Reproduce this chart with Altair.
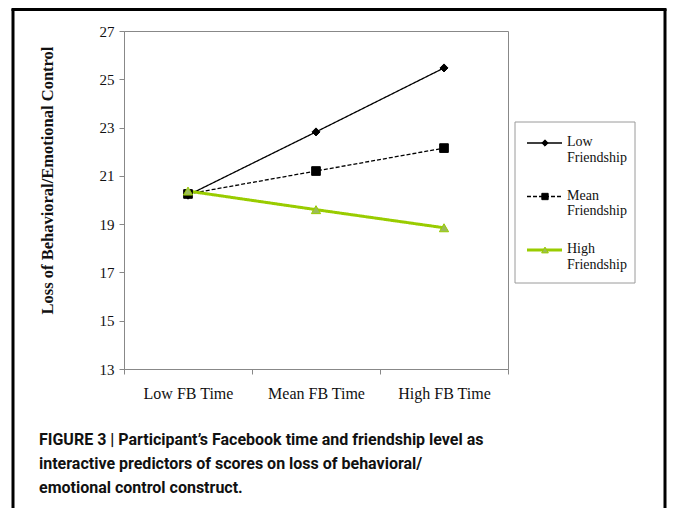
import altair as alt
import pandas as pd

# ---- data ----
categories = ["Low FB Time", "Mean FB Time", "High FB Time"]
series_names = ["Low Friendship", "Mean Friendship", "High Friendship"]
low_friendship = [20.2, 22.82, 25.47]
mean_friendship = [20.25, 21.2, 22.15]
high_friendship = [20.37, 19.6, 18.85]
y_ticks = [13, 15, 17, 19, 21, 23, 25, 27]
y_title = "Loss of Behavioral/Emotional Control"
caption_lines = [
    "FIGURE 3 | Participant\u2019s Facebook time and friendship level as",
    "interactive predictors of scores on loss of behavioral/",
    "emotional control construct.",
]

rows = []
for name, vals in zip(series_names, [low_friendship, mean_friendship, high_friendship]):
    for c, v in zip(categories, vals):
        rows.append({"series": name, "time": c, "score": v})
df = pd.DataFrame(rows)

legend_df = pd.DataFrame({
    "series": series_names,
    "label": [n.replace(" ", "\n") for n in series_names],
})
caption_df = pd.DataFrame({"caption": ["\n".join(caption_lines)]})
one = pd.DataFrame({"a": [0]})

SERIF = "Liberation Serif"
THICK = "High Friendship"

stroke_scale = alt.Scale(domain=series_names, range=["#000000", "#000000", "#99CC00"])
fill_scale = alt.Scale(domain=series_names, range=["#000000", "#000000", "#9BBB59"])
dash_scale = alt.Scale(domain=series_names, range=[[1, 0], [4, 2], [1, 0]])
shape_scale = alt.Scale(domain=series_names, range=["diamond", "square", "triangle-up"])
size_scale = alt.Scale(domain=series_names, range=[65, 85, 140])

stroke_enc = alt.Stroke("series:N", scale=stroke_scale, legend=None)
fill_enc = alt.Fill("series:N", scale=fill_scale, legend=None)
dash_enc = alt.StrokeDash("series:N", scale=dash_scale, legend=None)
shape_enc = alt.Shape("series:N", scale=shape_scale, legend=None)
size_enc = alt.Size("series:N", scale=size_scale, legend=None)

x_enc = alt.X(
    "time:N",
    sort=categories,
    scale=alt.Scale(type="band", paddingInner=0, paddingOuter=0),
    axis=alt.Axis(
        title=None, tickBand="extent", labelAngle=0, tickSize=5,
        labelPadding=11, labelFont=SERIF, labelFontSize=16, labelColor="#111",
        domainColor="#888", tickColor="#888",
    ),
)
y_enc = alt.Y(
    "score:Q",
    scale=alt.Scale(domain=[13, 27], nice=False, zero=False),
    axis=alt.Axis(
        values=y_ticks, grid=False, tickSize=5, labelPadding=5,
        labelFont=SERIF, labelFontSize=15, labelColor="#111",
        domainColor="#888", tickColor="#888",
        title=y_title, titleFont=SERIF, titleFontSize=16.5, titleFontWeight="bold",
        titleColor="#111", titleX=-77, titleY=149, titleAngle=-90,
        titleAlign="center", titleBaseline="middle",
    ),
)

thin_lines = alt.Chart(df).transform_filter(alt.datum.series != THICK).mark_line(strokeWidth=1.3).encode(
    x=x_enc, y=y_enc, stroke=stroke_enc, strokeDash=dash_enc,
)
thick_line = alt.Chart(df).transform_filter(alt.datum.series == THICK).mark_line(strokeWidth=3).encode(
    x=alt.X("time:N", sort=categories), y="score:Q", stroke=stroke_enc, strokeDash=dash_enc,
)
points = alt.Chart(df).mark_point(filled=True, strokeWidth=1, opacity=1).encode(
    x=alt.X("time:N", sort=categories), y="score:Q",
    shape=shape_enc, fill=fill_enc, stroke=stroke_enc, size=size_enc,
)

layers = [thin_lines, thick_line, points]

# ---- legend (styled like the reference's boxed legend) ----
layers.append(
    alt.Chart(one).mark_rect(fill="transparent", stroke="#9a9a9a", strokeWidth=1).encode(
        x=alt.value(391), x2=alt.value(511), y=alt.value(91), y2=alt.value(252)
    )
)
for i, name in enumerate(series_names):
    ly = 112 + i * 53.5
    base = alt.Chart(legend_df).transform_filter(alt.datum.series == name)
    layers.append(base.mark_rule(strokeWidth=3 if name == THICK else 1.3).encode(
        x=alt.value(403), x2=alt.value(438), y=alt.value(ly),
        stroke=stroke_enc, strokeDash=dash_enc,
    ))
    layers.append(base.mark_point(filled=True, strokeWidth=1, opacity=1).encode(
        x=alt.value(421), y=alt.value(ly),
        shape=shape_enc, fill=fill_enc, stroke=stroke_enc,
        size=alt.value(45 if name == THICK else 40),
    ))
    layers.append(base.mark_text(
        align="left", baseline="top", lineBreak="\n", lineHeight=15.5,
        font=SERIF, fontSize=14, color="#111",
    ).encode(x=alt.value(443), y=alt.value(ly - 8), text="label:N"))

# ---- caption ----
layers.append(alt.Chart(caption_df).mark_text(
    align="left", baseline="alphabetic", lineBreak="\n", lineHeight=24,
    font="Roboto", fontWeight="bold", fontSize=16, color="#111",
).encode(x=alt.value(-85), y=alt.value(414), text="caption:N"))

# ---- outer frame ----
layers.append(alt.Chart(one).mark_rule(color="black", strokeWidth=3).encode(
    x=alt.value(-111), y=alt.value(-22), y2=alt.value(480)))
layers.append(alt.Chart(one).mark_rule(color="black", strokeWidth=3).encode(
    x=alt.value(541), y=alt.value(-22), y2=alt.value(480)))
layers.append(alt.Chart(one).mark_rule(color="black", strokeWidth=3).encode(
    x=alt.value(-112.5), x2=alt.value(542.5), y=alt.value(-21.5)))

chart = alt.layer(*layers).properties(
    width=384, height=338,
    autosize=alt.AutoSizeParams(type="none"),
    padding={"left": 116, "top": 23, "right": 159, "bottom": 139},
    background="white",
).configure_view(stroke="#888", strokeWidth=1)

chart.save("out.html", embed_options={"renderer": "svg", "actions": False})
